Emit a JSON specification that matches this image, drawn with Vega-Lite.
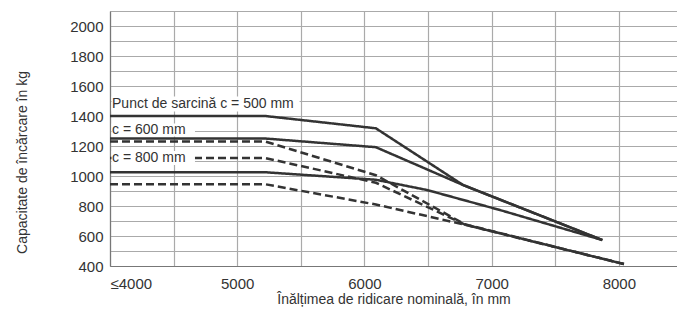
{
  "$schema": "https://vega.github.io/schema/vega-lite/v6.json",
  "autosize": "none",
  "width": 567,
  "height": 255,
  "padding": {"left": 110, "top": 11, "right": 0, "bottom": 48},
  "background": "white",
  "config": {
    "view": {"stroke": null},
    "font": "Liberation Sans",
    "axis": {"labelColor": "#333", "titleColor": "#333", "titleFontWeight": "normal", "labelOverlap": false}
  },
  "layer": [
    {
      "data": {"values": [
        {"s": "500", "t": "solid", "h": 4000, "q": 1400},
        {"s": "500", "t": "solid", "h": 5220, "q": 1400},
        {"s": "500", "t": "solid", "h": 6090, "q": 1318},
        {"s": "500", "t": "solid", "h": 6775, "q": 940},
        {"s": "500", "t": "solid", "h": 7870, "q": 573},
        {"s": "600", "t": "solid", "h": 4000, "q": 1250},
        {"s": "600", "t": "solid", "h": 5220, "q": 1250},
        {"s": "600", "t": "solid", "h": 6090, "q": 1192},
        {"s": "600", "t": "solid", "h": 6775, "q": 940},
        {"s": "600", "t": "solid", "h": 7870, "q": 573},
        {"s": "800", "t": "solid", "h": 4000, "q": 1025},
        {"s": "800", "t": "solid", "h": 5220, "q": 1025},
        {"s": "800", "t": "solid", "h": 6090, "q": 975},
        {"s": "800", "t": "solid", "h": 6490, "q": 907},
        {"s": "800", "t": "solid", "h": 7066, "q": 773},
        {"s": "800", "t": "solid", "h": 7870, "q": 573},
        {"s": "d1", "t": "dashed", "h": 4000, "q": 1230},
        {"s": "d1", "t": "dashed", "h": 5220, "q": 1230},
        {"s": "d1", "t": "dashed", "h": 6090, "q": 1005},
        {"s": "d1", "t": "dashed", "h": 6790, "q": 678},
        {"s": "d1", "t": "dashed", "h": 8040, "q": 413},
        {"s": "d2", "t": "dashed", "h": 4000, "q": 1120},
        {"s": "d2", "t": "dashed", "h": 5220, "q": 1120},
        {"s": "d2", "t": "dashed", "h": 6090, "q": 955},
        {"s": "d2", "t": "dashed", "h": 6790, "q": 676},
        {"s": "d2", "t": "dashed", "h": 8040, "q": 413},
        {"s": "d3", "t": "dashed", "h": 4000, "q": 945},
        {"s": "d3", "t": "dashed", "h": 5220, "q": 945},
        {"s": "d3", "t": "dashed", "h": 6090, "q": 810},
        {"s": "d3", "t": "dashed", "h": 6790, "q": 675},
        {"s": "d3", "t": "dashed", "h": 8040, "q": 413}
      ]},
      "mark": {"type": "line", "color": "#333", "strokeWidth": 2.5, "clip": true},
      "encoding": {
        "x": {
          "field": "h", "type": "quantitative",
          "scale": {"domain": [4000, 8457], "nice": false, "zero": false},
          "axis": {
            "values": [4000, 4500, 5000, 5500, 6000, 6500, 7000, 7500, 8000],
            "tickCount": 50,
            "format": "d",
            "labelExpr": "datum.value == 4000 ? '≤4000' : (datum.value % 1000 == 0 ? datum.label : '')",
            "labelFontSize": 15, "labelPadding": 10, "ticks": false,
            "grid": true, "gridColor": "#aaaaaa", "gridWidth": 1.2, "gridOpacity": 1,
            "domainColor": "#777", "domainWidth": 1.2,
            "title": "Înălțimea de ridicare nominală, în mm",
            "titleFontSize": 14, "titleY": 33, "titleBaseline": "middle"
          }
        },
        "y": {
          "field": "q", "type": "quantitative",
          "scale": {"domain": [400, 2100], "nice": false, "zero": false},
          "axis": {
            "values": [400, 500, 600, 700, 800, 900, 1000, 1100, 1200, 1300, 1400, 1500, 1600, 1700, 1800, 1900, 2000, 2100],
            "tickCount": 50,
            "format": "d",
            "labelExpr": "(datum.value % 200 == 0 && datum.value <= 2000) ? datum.label : ''",
            "labelFontSize": 15, "labelPadding": 7, "ticks": false,
            "grid": true, "gridColor": "#aaaaaa", "gridWidth": 1.2, "gridOpacity": 1,
            "domainColor": "#777", "domainWidth": 1.2,
            "title": "Capacitate de încărcare în kg",
            "titleFontSize": 14, "titleX": -88, "titleY": 151, "titleBaseline": "middle", "titleAlign": "center"
          }
        },
        "detail": {"field": "s"},
        "strokeDash": {
          "field": "t", "type": "nominal",
          "scale": {"domain": ["solid", "dashed"], "range": [[1, 0], [8, 4]]},
          "legend": null
        }
      }
    },
    {
      "data": {"values": [
        {"x1": 4012, "x2": 5490, "y1": 1430, "y2": 1530},
        {"x1": 4012, "x2": 4668, "y1": 1263, "y2": 1350},
        {"x1": 4012, "x2": 4668, "y1": 1073, "y2": 1167}
      ]},
      "mark": {"type": "rect", "color": "white"},
      "encoding": {
        "x": {"field": "x1", "type": "quantitative"},
        "x2": {"field": "x2"},
        "y": {"field": "y1", "type": "quantitative"},
        "y2": {"field": "y2"}
      }
    },
    {
      "data": {"values": [
        {"x": 4016, "y": 1480, "label": "Punct de sarcină c = 500 mm"},
        {"x": 4016, "y": 1307, "label": "c = 600 mm"},
        {"x": 4016, "y": 1120, "label": "c = 800 mm"}
      ]},
      "mark": {"type": "text", "align": "left", "baseline": "middle", "fontSize": 14, "color": "#333"},
      "encoding": {
        "x": {"field": "x", "type": "quantitative"},
        "y": {"field": "y", "type": "quantitative"},
        "text": {"field": "label"}
      }
    }
  ]
}
